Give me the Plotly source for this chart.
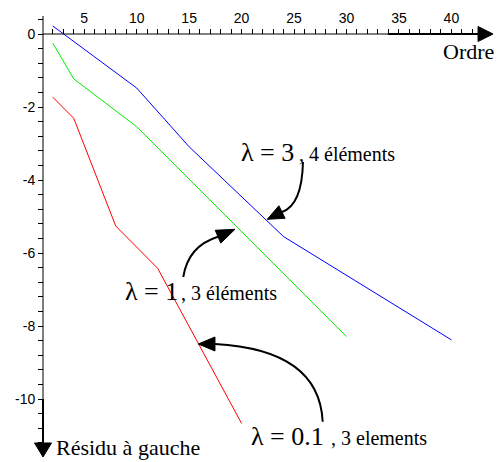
import math
import plotly.graph_objects as go

# ---------------- data ----------------
blue_x = [2, 10, 15, 24, 40]
blue_y = [0.22, -1.48, -3.09, -5.55, -8.38]
green_x = [2, 4, 10, 30]
green_y = [-0.25, -1.23, -2.54, -8.29]
red_x = [2, 4, 8, 12, 20]
red_y = [-1.73, -2.31, -5.26, -6.42, -10.67]

x_tickvals = [5, 10, 15, 20, 25, 30, 35, 40]
x_ticktext = ["5", "10", "15", "20", "25", "30", "35", "40"]
y_tickvals = [0, -2, -4, -6, -8, -10]
y_ticktext = ["0", "-2", "-4", "-6", "-8", "-10"]
x_minor = list(range(2, 44))
y_minor = [round(0.4 - 0.4 * i, 1) for i in range(30)]

# ---------------- layout geometry ----------------
W, H = 501, 462
SX, SY = 10.49, 36.5          # pixels per unit
X0PX, Y0PX = 31.8, 34.0       # pixel position of x=0 / y=0
xr = [(0 - X0PX) / SX, (W - X0PX) / SX]
yr = [(Y0PX - H) / SY, Y0PX / SY]

AX_X = 1.068                  # where the vertical axis sits
Y_TOP = 0.493
X_END_SHAFT, X_TIP = 42.54, 43.97
Y_END_SHAFT, Y_TIP = -11.205, -11.589

fig = go.Figure()
fig.add_trace(go.Scatter(x=blue_x, y=blue_y, mode="lines",
                         line=dict(color="#0000ff", width=1), hoverinfo="skip"))
fig.add_trace(go.Scatter(x=green_x, y=green_y, mode="lines",
                         line=dict(color="#00ee00", width=1), hoverinfo="skip"))
fig.add_trace(go.Scatter(x=red_x, y=red_y, mode="lines",
                         line=dict(color="#ff0000", width=1), hoverinfo="skip"))


def head_path(tip, base, hw):
    # triangle in data coords with a half width of hw pixels
    dx = (tip[0] - base[0]) * SX
    dy = (tip[1] - base[1]) * SY
    L = math.hypot(dx, dy)
    px, py = -dy / L * hw, dx / L * hw
    a = (base[0] + px / SX, base[1] + py / SY)
    b = (base[0] - px / SX, base[1] - py / SY)
    return f"M {tip[0]},{tip[1]} L {a[0]},{a[1]} L {b[0]},{b[1]} Z"


shapes = []
# axis lines
shapes.append(dict(type="line", xref="x", yref="y", x0=AX_X, y0=0, x1=X_END_SHAFT, y1=0,
                   line=dict(color="black", width=1)))
shapes.append(dict(type="line", xref="x", yref="y", x0=AX_X, y0=Y_TOP, x1=AX_X, y1=Y_END_SHAFT,
                   line=dict(color="black", width=1)))
# axis arrows
shapes.append(dict(type="line", xref="x", yref="y", x0=33.94, y0=0, x1=X_END_SHAFT, y1=0,
                   line=dict(color="black", width=2)))
shapes.append(dict(type="path", xref="x", yref="y",
                   path=head_path((X_TIP, 0), (X_END_SHAFT, 0), 7.5),
                   fillcolor="black", line=dict(color="black", width=1)))
shapes.append(dict(type="line", xref="x", yref="y", x0=AX_X, y0=-10, x1=AX_X, y1=Y_END_SHAFT,
                   line=dict(color="black", width=2)))
shapes.append(dict(type="path", xref="x", yref="y",
                   path=head_path((AX_X, Y_TIP), (AX_X, Y_END_SHAFT), 8.5),
                   fillcolor="black", line=dict(color="black", width=1)))

# curved annotation arrows (data coords)
arrows = [
    dict(start=(25.85, -3.507), ctrl=[(25.76, -4.685)], base=(23.85, -4.877), tip=(22.45, -5.077)),
    dict(start=(14.44, -6.658), ctrl=[(14.89, -5.808)], base=(17.75, -5.553), tip=(19.37, -5.351)),
    dict(start=(27.73, -10.622), ctrl=[(27.47, -9.041), (22.71, -8.575)], base=(17.46, -8.493),
         tip=(15.87, -8.493)),
]
for a in arrows:
    cmd = "Q" if len(a["ctrl"]) == 1 else "C"
    pts = " ".join(f"{p[0]},{p[1]}" for p in a["ctrl"] + [a["base"]])
    shapes.append(dict(type="path", xref="x", yref="y",
                       path=f"M {a['start'][0]},{a['start'][1]} {cmd} {pts}",
                       line=dict(color="black", width=2)))
    shapes.append(dict(type="path", xref="x", yref="y", path=head_path(a["tip"], a["base"], 7),
                       fillcolor="black", line=dict(color="black", width=1)))

SERIF = "Liberation Serif"
annotations = []


def txt(x, y, s, size, xanchor="left"):
    annotations.append(dict(x=x, y=y, xref="x", yref="y", text=s, showarrow=False,
                            xanchor=xanchor, yanchor="middle",
                            font=dict(family=SERIF, size=size, color="black")))


txt(19.75, -3.24, "λ = 3", 26)
txt(25.28, -3.29, ", 4 éléments", 20)
txt(8.69, -7.05, "λ = 1", 26)
txt(14.03, -7.10, ", 3 éléments", 20)
txt(20.71, -11.02, "λ = 0.1", 26)
txt(28.33, -11.08, ", 3 elements", 20)
txt(44.25, -0.48, "Ordre", 22, xanchor="right")
txt(2.116, -11.33, "Résidu à gauche", 22)

tickfont = dict(family="Liberation Sans", size=14, color="black")
fig.update_layout(
    width=W, height=H, autosize=False,
    margin=dict(l=0, r=0, t=0, b=0, pad=0),
    paper_bgcolor="white", plot_bgcolor="white",
    showlegend=False, hovermode=False,
    shapes=shapes, annotations=annotations,
    xaxis=dict(range=xr, anchor="free",
               position=(0 - yr[0]) / (yr[1] - yr[0]),
               side="top", showgrid=False, zeroline=False, showline=False,
               tickmode="array", tickvals=x_tickvals, ticktext=x_ticktext,
               ticks="outside", ticklen=5, tickcolor="black", tickwidth=1,
               tickfont=tickfont, automargin=False, fixedrange=True,
               minor=dict(tickmode="array", tickvals=x_minor, ticks="outside",
                          ticklen=5, tickcolor="black", tickwidth=1, showgrid=False)),
    yaxis=dict(range=yr, anchor="free",
               position=(AX_X - xr[0]) / (xr[1] - xr[0]),
               side="left", showgrid=False, zeroline=False, showline=False,
               tickmode="array", tickvals=y_tickvals, ticktext=y_ticktext,
               ticks="outside", ticklen=5, tickcolor="black", tickwidth=1,
               tickfont=tickfont, automargin=False, fixedrange=True,
               minor=dict(tickmode="array", tickvals=y_minor, ticks="outside",
                          ticklen=5, tickcolor="black", tickwidth=1, showgrid=False)),
)

fig.write_html("out.html", config={"displayModeBar": False},
               post_script="document.body.style.margin='0';document.body.style.overflow='hidden';")
